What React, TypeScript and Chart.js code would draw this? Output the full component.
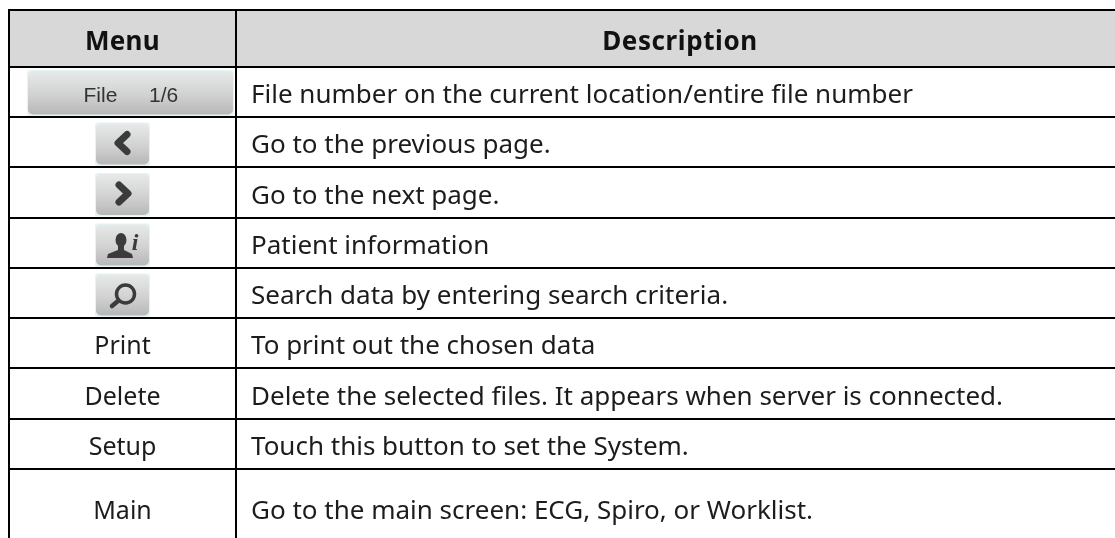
import React, { useEffect, useRef } from "react";
import { Chart, registerables } from "chart.js";

Chart.register(...registerables);

const menuHeader = "Menu";
const descriptionHeader = "Description";
const menuLabels = ["File 1/6", "<", ">", "patient", "search", "Print", "Delete", "Setup", "Main"];
const descriptions = [
  "File number on the current location/entire file number",
  "Go to the previous page.",
  "Go to the next page.",
  "Patient information",
  "Search data by entering search criteria.",
  "To print out the chosen data",
  "Delete the selected files. It appears when server is connected.",
  "Touch this button to set the System.",
  "Go to the main screen: ECG, Spiro, or Worklist.",
];
const columnEdges = [9, 236, 1130];
const rowEdges = [10, 67, 117, 167, 218, 268, 318, 368, 419, 469, 546];

const FONT = '"Noto Sans", sans-serif';
const INK = "#1c1c1c";
const ICON = "#3b3b3b";

function roundedButton(ctx: CanvasRenderingContext2D, x0: number, y0: number, x1: number, y1: number) {
  ctx.fillStyle = "#e4f3f5";
  ctx.beginPath();
  ctx.roundRect(x0, y0, x1 - x0, y1 - y0, 3);
  ctx.fill();
  const g = ctx.createLinearGradient(0, y0, 0, y1);
  g.addColorStop(0, "#e9ebeb");
  g.addColorStop(0.55, "#d0d1d0");
  g.addColorStop(1, "#b4b5b5");
  ctx.fillStyle = g;
  ctx.beginPath();
  ctx.roundRect(x0 + 1, y0 + 1, x1 - x0 - 2, y1 - y0 - 2.5, 5);
  ctx.fill();
}

function drawIcon(ctx: CanvasRenderingContext2D, kind: string, cx: number, cy: number) {
  ctx.save();
  ctx.strokeStyle = ICON;
  ctx.fillStyle = ICON;
  ctx.lineCap = "round";
  ctx.lineJoin = "round";
  if (kind === "<" || kind === ">") {
    const d = kind === "<" ? 1 : -1;
    ctx.lineWidth = 7;
    ctx.beginPath();
    ctx.moveTo(cx + 4 * d, cy - 8.5);
    ctx.lineTo(cx - 5 * d, cy);
    ctx.lineTo(cx + 4 * d, cy + 8.5);
    ctx.stroke();
  } else if (kind === "patient") {
    ctx.beginPath();
    ctx.ellipse(cx - 2, cy - 4, 5.5, 7, 0, 0, Math.PI * 2);
    ctx.fill();
    ctx.beginPath();
    ctx.moveTo(cx - 5, cy + 1);
    ctx.lineTo(cx + 1, cy + 1);
    ctx.lineTo(cx + 1, cy + 6);
    ctx.lineTo(cx + 9, cy + 10);
    ctx.lineTo(cx + 10, cy + 14);
    ctx.lineTo(cx - 16, cy + 14);
    ctx.lineTo(cx - 15, cy + 10);
    ctx.lineTo(cx - 5, cy + 6);
    ctx.closePath();
    ctx.fill();
    ctx.font = 'italic bold 24px "Liberation Serif", serif';
    ctx.textAlign = "center";
    ctx.textBaseline = "alphabetic";
    ctx.fillText("i", cx + 12, cy + 6);
  } else if (kind === "search") {
    ctx.lineWidth = 3.5;
    ctx.beginPath();
    ctx.arc(cx + 2.5, cy, 9, 0, Math.PI * 2);
    ctx.stroke();
    ctx.lineWidth = 4.5;
    ctx.beginPath();
    ctx.moveTo(cx - 5, cy + 7);
    ctx.lineTo(cx - 11, cy + 12);
    ctx.stroke();
  }
  ctx.restore();
}

const tablePlugin = {
  id: "tableContent",
  beforeDraw(chart: any) {
    const { ctx, scales } = chart;
    const x = scales.x;
    const y = scales.y;
    const top = y.getPixelForValue(rowEdges[0]);
    const bot = y.getPixelForValue(rowEdges[1]);
    ctx.save();
    ctx.fillStyle = "#ffffff";
    ctx.fillRect(0, 0, chart.width, chart.height);
    ctx.fillStyle = "#d8d8d8";
    ctx.fillRect(x.left, top, chart.width - x.left, bot - top);
    ctx.restore();
  },
  afterDraw(chart: any) {
    const { ctx, scales } = chart;
    const x = scales.x;
    const y = scales.y;
    const colL = x.getPixelForValue(columnEdges[0]);
    const colM = x.getPixelForValue(columnEdges[1]);
    const c0 = (colL + colM) / 2;
    const descX = colM + 15;
    ctx.save();
    ctx.textBaseline = "alphabetic";
    ctx.fillStyle = "#111";
    ctx.font = `bold 26px ${FONT}`;
    ctx.textAlign = "center";
    const headerY = (y.getPixelForValue(rowEdges[0]) + y.getPixelForValue(rowEdges[1])) / 2 + 11.5;
    ctx.letterSpacing = "0.3px";
    ctx.fillText(menuHeader, c0, headerY);
    ctx.letterSpacing = "0.6px";
    ctx.fillText(descriptionHeader, 680, headerY);
    ctx.letterSpacing = "0px";

    menuLabels.forEach((label, i) => {
      const mid = (y.getPixelForValue(rowEdges[i + 1]) + y.getPixelForValue(rowEdges[i + 2])) / 2;
      if (i === 0) {
        roundedButton(ctx, c0 - 95.5, mid - 22, c0 + 111.5, mid + 24);
        ctx.fillStyle = "#333";
        ctx.font = '21px "Liberation Sans", sans-serif';
        ctx.textAlign = "left";
        const [a, b] = label.split(" ");
        ctx.fillText(a, c0 - 39, mid + 10);
        ctx.fillText(b, c0 + 26.5, mid + 10);
      } else if (i >= 1 && i <= 4) {
        roundedButton(ctx, c0 - 27.5, mid - 19.5, c0 + 27.5, mid + 24);
        drawIcon(ctx, label, c0 + 0.5, mid + 1);
      } else {
        ctx.fillStyle = INK;
        ctx.font = `25px ${FONT}`;
        ctx.textAlign = "center";
        ctx.fillText(label, c0, mid + 11);
      }
      ctx.fillStyle = INK;
      ctx.font = `26px ${FONT}`;
      ctx.textAlign = "left";
      ctx.fillText(descriptions[i], descX, mid + 11);
    });
    ctx.restore();
  },
};

export default function App() {
  const ref = useRef<HTMLCanvasElement>(null);
  useEffect(() => {
    document.body.style.margin = "0";
    const chart = new Chart(ref.current!, {
      type: "scatter",
      data: { datasets: [{ data: [], pointRadius: 0 }] },
      options: {
        animation: false,
        responsive: false,
        layout: { padding: { left: 8, top: 9, right: 0, bottom: 0 } },
        plugins: { legend: { display: false }, tooltip: { enabled: false }, title: { display: false } },
        scales: {
          x: {
            type: "linear",
            min: 8,
            max: 1115,
            afterBuildTicks: (s: any) => {
              s.ticks = columnEdges.filter((v) => v <= 1115).map((value) => ({ value }));
            },
            ticks: { display: false },
            border: { display: false },
            grid: { color: "#000", lineWidth: 2, drawTicks: false },
          },
          y: {
            type: "linear",
            reverse: true,
            min: 9,
            max: 538,
            afterBuildTicks: (s: any) => {
              s.ticks = rowEdges.filter((v) => v <= 538).map((value) => ({ value }));
            },
            ticks: { display: false },
            border: { display: false },
            grid: { color: "#000", lineWidth: 2, drawTicks: false },
          },
        },
      },
      plugins: [tablePlugin],
    } as any);
    return () => chart.destroy();
  }, []);
  return (
    <div style={{ position: "absolute", left: 0, top: 0, width: 1115, height: 538 }}>
      <canvas ref={ref} width={1115} height={538} style={{ display: "block" }} />
    </div>
  );
}
